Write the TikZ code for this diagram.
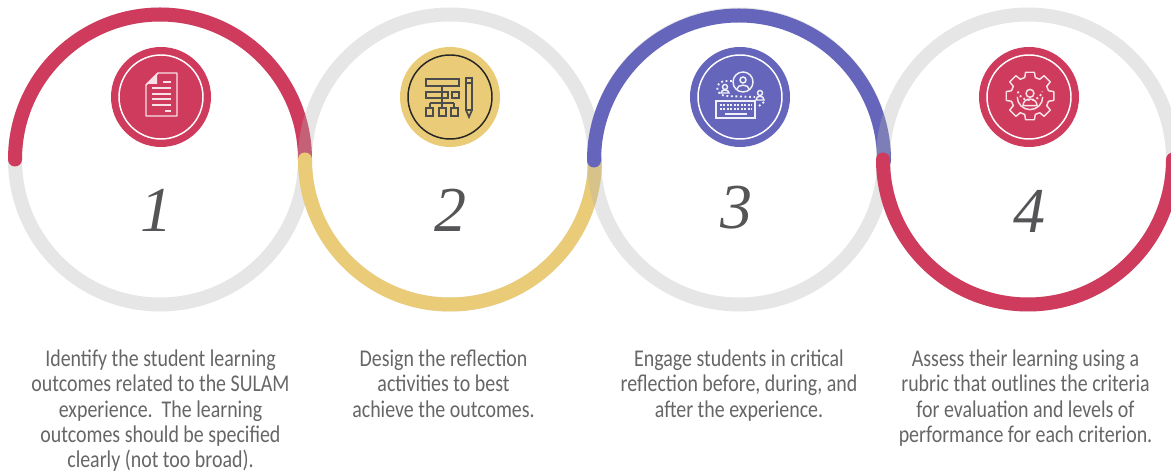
\documentclass[tikz,border=0pt]{standalone}
\usepackage{fontspec}
\setmainfont{Carlito}
\newfontfamily\capfont[FakeStretch=0.83]{Carlito}
\newfontfamily\digitfont{Liberation Serif}
\usepackage{tikz}
\definecolor{ringgray}{HTML}{B2B2B2}
\definecolor{rosered}{HTML}{CF3B5C}
\definecolor{sand}{HTML}{EACB78}
\definecolor{indigo}{HTML}{6565BC}
\definecolor{inkgray}{HTML}{555558}
\definecolor{textgray}{HTML}{666666}
\tikzstyle{ring} = [circle, minimum size=217.5pt, inner sep=0pt, line width=10.5pt, draw=ringgray, draw opacity=0.32]
\tikzstyle{band} = [line width=10.5pt, line cap=round]
\tikzstyle{badge} = [circle, minimum size=75pt, inner sep=0pt]
\tikzstyle{inner} = [circle, minimum size=63pt, inner sep=0pt, draw=white, line width=1.1pt]
\tikzstyle{digit} = [font=\digitfont\itshape\fontsize{48}{48}\selectfont, text=inkgray]
\tikzstyle{caption} = [align=center, text=textgray, anchor=north, font=\capfont\fontsize{18}{19}\selectfont]
\tikzstyle{glyph} = [line width=1.1pt, draw=white!85!rosered]
\tikzstyle{darkglyph} = [line width=1.3pt, draw=black!70]
\begin{document}
\begin{tikzpicture}[x=0.75pt, y=-0.75pt]
	\useasboundingbox (0,0) rectangle (1171,473);

	% rings and coloured halves, each one lies over the last
	\begin{scope}
	\clip (0,0) rectangle (1171,473);
	\node (r1) [ring] at (160,159.5) {};
	\draw [band, rosered] (15,159.5) arc (180:0:145 and -145);
	\node (r2) [ring] at (450,159.5) {};
	\draw [band, sand] (305,159.5) arc (180:0:145 and 145);
	\node (r3) [ring] at (739,159.5) {};
	\draw [band, indigo] (594,160.5) arc (180:0:145 and -145);
	\node (r4) [ring] at (1028,159.5) {};
	\draw [band, rosered] (883,159.5) arc (180:0:145 and 145);
	\end{scope}

	% badges
	\node (b1) [badge, fill=rosered] at (161,97) {};
	\node (b2) [badge, fill=sand] at (450,97) {};
	\node (b3) [badge, fill=indigo] at (740,97) {};
	\node (b4) [badge, fill=rosered] at (1029,97) {};
	\node (i1) [inner] at (b1) {};
	\node (i2) [inner, draw=black!85] at (b2) {};
	\node (i3) [inner] at (b3) {};
	\node (i4) [inner] at (b4) {};

	% document
	\draw [glyph, line join=round] (158,73) -- (177,73) -- (177,116) -- (146,116) -- (146,85) -- cycle;
	\fill [white!85!rosered] (147,84) -- (157,74) -- (157,84) -- cycle;
	\foreach \ya/\xa/\xb in {83/163/171, 89/152/171, 95/152/171, 100/152/171, 106/152/171, 112/165/171}
		\draw [glyph] (\xa,\ya-1) -- (\xb,\ya-1);

	% chart and pencil
	\begin{scope}[darkglyph]
	\draw (426,79) rectangle (459,86);
	\draw (426,92) rectangle (448,98);
	\draw (452,92) rectangle (459,98);
	\draw (426,108) rectangle (433,116);
	\draw (439,108) rectangle (446,116);
	\draw (451,108) rectangle (458,116);
	\draw (442,86) -- (442,108);
	\draw (430,103) -- (454,103) (430,103) -- (430,108) (454,103) -- (454,108);
	\draw (466,78) rectangle (472,110);
	\draw (466,110) -- (469,117) -- (472,110) (466,83) -- (472,83);
	\end{scope}

	% people and keyboard
	\begin{scope}[glyph, draw=white!90!indigo]
	\draw (743,82) circle (10);
	\draw (743,80) circle (3);
	\draw (737,89) .. controls (737,84) and (749,84) .. (749,89);
	\draw (725,87) circle (2.5);
	\draw (721,93) .. controls (721,89) and (729,89) .. (729,93) -- cycle;
	\draw (760,93) circle (2.5);
	\draw (756,100) .. controls (756,95) and (764,95) .. (764,100) -- cycle;
	\draw [dotted, line width=1.4pt] (732,81) -- (724,81) .. controls (715,83) and (715,94) .. (725,96) -- (755,97);
	\draw [dotted, line width=1.4pt] (764,102) -- (759,106);
	\draw (716,101) rectangle (755,118);
	\draw [dash pattern=on 1.5pt off 1.1pt, line width=1.7pt] (720,105) -- (752,105);
	\draw [dash pattern=on 1.5pt off 1.1pt, line width=1.7pt] (720,109) -- (752,109);
	\draw (725,114) -- (747,114);
	\end{scope}

	% gear
	\begin{scope}[glyph, shift={(1030,96)}, scale=0.88]
	\draw [line join=round] (-5,-27) -- (5,-27) -- (6,-21) -- (11,-19) -- (16,-23) -- (23,-16) -- (19,-11) -- (21,-6) -- (27,-5) -- (27,5) -- (21,6) -- (19,11) -- (23,16) -- (16,23) -- (11,19) -- (6,21) -- (5,27) -- (-5,27) -- (-6,21) -- (-11,19) -- (-16,23) -- (-23,16) -- (-19,11) -- (-21,6) -- (-27,5) -- (-27,-5) -- (-21,-6) -- (-19,-11) -- (-23,-16) -- (-16,-23) -- (-11,-19) -- (-6,-21) -- cycle;
	\draw (-14.5,1) arc (180:360:14.5 and -14.5);
	\draw [dotted, line width=1.4pt] (-14,-5) arc (160:20:15);
	\draw (0,-3) circle (4.5);
	\draw (-8,11) .. controls (-8,1) and (8,1) .. (8,11) -- cycle;
	\end{scope}

	% numbers
	\node (n1) [digit] at (156,210) {1};
	\node (n2) [digit] at (450,210) {2};
	\node (n3) [digit] at (736,208) {3};
	\node (n4) [digit] at (1029,211) {4};

	% captions
	\node (t1) [caption] at (160.5,345) {Identify the student learning\\outcomes related to the SULAM\\experience.\ \ The learning\\outcomes should be specified\\clearly (not too broad).};
	\node (t2) [caption] at (443.5,345) {Design the reflection\\activities to best\\achieve the outcomes.};
	\node (t3) [caption] at (739,345) {Engage students in critical\\reflection before, during, and\\after the experience.};
	\node (t4) [caption] at (1025.5,345) {Assess their learning using a\\rubric that outlines the criteria\\for evaluation and levels of\\performance for each criterion.};
\end{tikzpicture}
\end{document}
